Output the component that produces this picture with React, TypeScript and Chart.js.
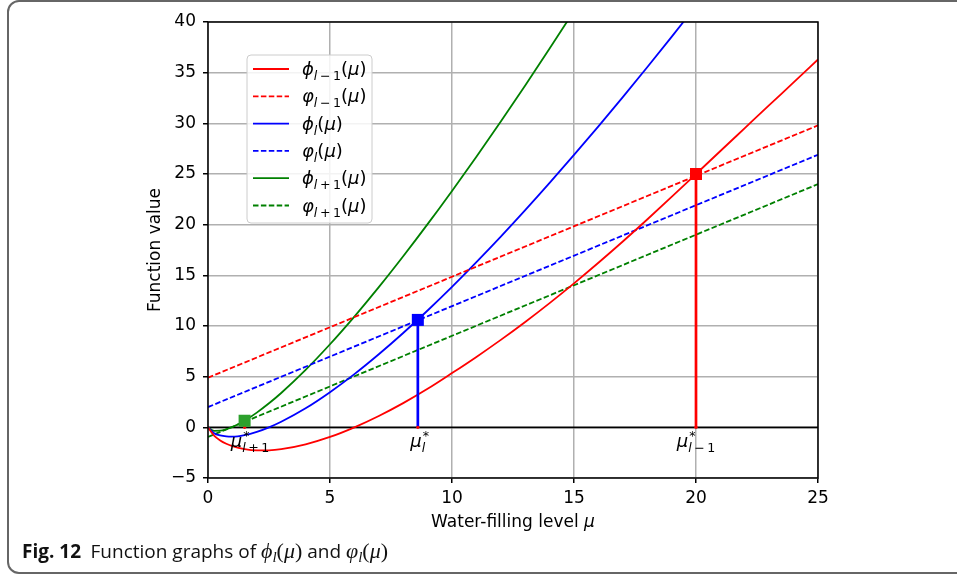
import React, { useEffect, useRef } from 'react';
import { Chart, registerables } from 'chart.js';

Chart.register(...registerables);

// ---- data ----
const muGrid = [0, 0.25, 0.5, 0.75, 1, 1.5, 2, 2.5, 3, 4, 5, 6, 7, 8, 9, 10, 11, 12, 13, 14, 15, 16, 17, 18, 19, 20, 21, 22, 23, 24, 25];
const phiPrev = [0, -0.82, -1.29, -1.62, -1.86, -2.16, -2.28, -2.27, -2.16, -1.68, -0.95, 0, 1.12, 2.39, 3.8, 5.35, 6.95, 8.63, 10.4, 12.26, 14.21, 16.24, 18.34, 20.51, 22.74, 25.0, 27.27, 29.53, 31.79, 34.04, 36.3];
const phiCur = [0, -0.58, -0.8, -0.9, -0.92, -0.77, -0.45, 0, 0.55, 1.88, 3.47, 5.25, 7.21, 9.31, 11.53, 13.86, 16.3, 18.82, 21.43, 24.12, 26.88, 29.7, 32.59, 35.53, 38.53, 41.59];
const phiNext = [0, -0.34, -0.33, -0.19, 0.03, 0.65, 1.45, 2.37, 3.39, 5.67, 8.2, 10.93, 13.83, 16.88, 20.05, 23.33, 26.71, 30.18, 33.74, 37.38, 41.08];

const lineMu = [0, 25];
const varphiPrev = [4.9, 29.8];
const varphiCur = [2.0, 26.9];
const varphiNext = [-0.95, 24.0];

const muStar = [1.5, 8.6, 20];
const starValue = [0.65, 10.6, 25.0];
const starLabelMu = [1.72, 8.6, 20];

const xMin = 0, xMax = 25, xStep = 5;
const yMin = -5, yMax = 40, yStep = 5;

const xTitle = 'Water-filling level ';
const yTitle = 'Function value';

type Part = { t: string; it?: boolean; sub?: boolean; sup?: boolean; noAdv?: boolean };

const MINUS_SUB = '\u2009\u2212\u20091';
const PLUS_SUB = '\u2009+\u20091';

const legendItems: { color: string; dashed: boolean; parts: Part[] }[] = [
  { color: '#ff0000', dashed: false, parts: [{ t: '\u03d5', it: true }, { t: 'l', it: true, sub: true }, { t: MINUS_SUB, sub: true }, { t: '(' }, { t: '\u03bc', it: true }, { t: ')' }] },
  { color: '#ff0000', dashed: true, parts: [{ t: '\u03c6', it: true }, { t: 'l', it: true, sub: true }, { t: MINUS_SUB, sub: true }, { t: '(' }, { t: '\u03bc', it: true }, { t: ')' }] },
  { color: '#0000ff', dashed: false, parts: [{ t: '\u03d5', it: true }, { t: 'l', it: true, sub: true }, { t: '(' }, { t: '\u03bc', it: true }, { t: ')' }] },
  { color: '#0000ff', dashed: true, parts: [{ t: '\u03c6', it: true }, { t: 'l', it: true, sub: true }, { t: '(' }, { t: '\u03bc', it: true }, { t: ')' }] },
  { color: '#008000', dashed: false, parts: [{ t: '\u03d5', it: true }, { t: 'l', it: true, sub: true }, { t: PLUS_SUB, sub: true }, { t: '(' }, { t: '\u03bc', it: true }, { t: ')' }] },
  { color: '#008000', dashed: true, parts: [{ t: '\u03c6', it: true }, { t: 'l', it: true, sub: true }, { t: PLUS_SUB, sub: true }, { t: '(' }, { t: '\u03bc', it: true }, { t: ')' }] },
];

const starLabels: Part[][] = [
  [{ t: '\u03bc', it: true }, { t: '*', sup: true, noAdv: true }, { t: 'l', it: true, sub: true }, { t: PLUS_SUB, sub: true }],
  [{ t: '\u03bc', it: true }, { t: '*', sup: true, noAdv: true }, { t: 'l', it: true, sub: true }],
  [{ t: '\u03bc', it: true }, { t: '*', sup: true, noAdv: true }, { t: 'l', it: true, sub: true }, { t: MINUS_SUB, sub: true }],
];

const RED = '#ff0000';
const BLUE = '#0000ff';
const GREEN = '#008000';
const GREEN_MARK = '#2ca02c';
const FONT = '"DejaVu Sans"';
const DASH = [5.5, 2.4];
const LW = 1.8;

function pts(xs: number[], ys: number[]) {
  return ys.map((v, i) => ({ x: xs[i], y: v }));
}

function drawMath(ctx: CanvasRenderingContext2D, parts: Part[], x: number, y: number, size: number, align: 'left' | 'center') {
  const fontFor = (p: Part) => `${p.it ? 'italic ' : ''}${p.sub || p.sup ? size * 0.7 : size}px ${FONT}`;
  let w = 0;
  for (const p of parts) {
    ctx.font = fontFor(p);
    if (!p.noAdv) w += ctx.measureText(p.t).width;
  }
  let cx = align === 'center' ? x - w / 2 : x;
  ctx.textAlign = 'left';
  ctx.textBaseline = 'alphabetic';
  for (const p of parts) {
    ctx.font = fontFor(p);
    const dy = p.sub ? size * 0.28 : p.sup ? -size * 0.42 : 0;
    ctx.fillText(p.t, p.sup ? cx + 1 : cx, y + dy);
    if (!p.noAdv) cx += ctx.measureText(p.t).width;
  }
}

const overlayPlugin = {
  id: 'overlay',
  afterDatasetsDraw(chart: any) {
    const { ctx, chartArea: a, scales } = chart;
    const xs = scales.x, ys = scales.y;
    ctx.save();
    // spines
    ctx.strokeStyle = '#000';
    ctx.lineWidth = 1.5;
    ctx.setLineDash([]);
    ctx.strokeRect(a.left, a.top, a.right - a.left, a.bottom - a.top);

    // μ* labels
    ctx.fillStyle = '#000';
    const y0 = ys.getPixelForValue(0);
    starLabels.forEach((parts, i) => {
      drawMath(ctx, parts, xs.getPixelForValue(starLabelMu[i]), y0 + 20, 18, 'center');
    });

    // legend
    const lx = a.left + 39, ly = a.top + 33, lw = 125, lh = 168;
    ctx.beginPath();
    ctx.roundRect(lx, ly, lw, lh, 4);
    ctx.fillStyle = 'rgba(255,255,255,0.85)';
    ctx.fill();
    ctx.strokeStyle = '#cccccc';
    ctx.lineWidth = 1;
    ctx.stroke();
    legendItems.forEach((it, i) => {
      const ry = ly + 14 + i * 27.3;
      ctx.beginPath();
      ctx.strokeStyle = it.color;
      ctx.lineWidth = LW;
      ctx.setLineDash(it.dashed ? DASH : []);
      ctx.moveTo(lx + 6, ry);
      ctx.lineTo(lx + 42, ry);
      ctx.stroke();
      ctx.setLineDash([]);
      ctx.fillStyle = '#000';
      drawMath(ctx, it.parts, lx + 55, ry + 6, 18, 'left');
    });

    // x-axis title
    ctx.fillStyle = '#000';
    const titleParts: Part[] = [{ t: xTitle }, { t: '\u03bc', it: true }];
    drawMath(ctx, titleParts, (a.left + a.right) / 2, 527, 17, 'center');
    ctx.restore();
  },
};

export default function App() {
  const ref = useRef<HTMLCanvasElement | null>(null);

  useEffect(() => {
    if (!ref.current) return;
    const line = (data: any[], color: string, extra: any = {}) => ({
      data,
      borderColor: color,
      backgroundColor: color,
      borderWidth: LW,
      pointRadius: 0,
      fill: false,
      ...extra,
    });
    const chart = new Chart(ref.current, {
      type: 'line',
      data: {
        datasets: [
          line(pts(lineMu, [0, 0]), '#000', { order: 6 }),
          line(pts(muGrid, phiPrev), RED, { order: 4, cubicInterpolationMode: 'monotone' }),
          line(pts(lineMu, varphiPrev), RED, { order: 4, borderDash: DASH }),
          line(pts(muGrid, phiCur), BLUE, { order: 4, cubicInterpolationMode: 'monotone' }),
          line(pts(lineMu, varphiCur), BLUE, { order: 4, borderDash: DASH }),
          line(pts(muGrid, phiNext), GREEN, { order: 4, cubicInterpolationMode: 'monotone' }),
          line(pts(lineMu, varphiNext), GREEN, { order: 4, borderDash: DASH }),
          line([{ x: muStar[0], y: 0 }, { x: muStar[0], y: starValue[0] }], GREEN_MARK, { order: 3, borderWidth: 2.7 }),
          line([{ x: muStar[1], y: 0 }, { x: muStar[1], y: starValue[1] }], BLUE, { order: 3, borderWidth: 2.7 }),
          line([{ x: muStar[2], y: 0 }, { x: muStar[2], y: starValue[2] }], RED, { order: 3, borderWidth: 2.7 }),
          line(muStar.map((m) => ({ x: m, y: 0 })), RED, { order: 2, showLine: false, pointRadius: 1.6, pointBorderWidth: 0 }),
          line([{ x: muStar[0], y: starValue[0] }], GREEN_MARK, { order: 1, showLine: false, pointStyle: 'rect', pointRadius: 8.5, pointBorderWidth: 0 }),
          line([{ x: muStar[1], y: starValue[1] }], BLUE, { order: 1, showLine: false, pointStyle: 'rect', pointRadius: 8.5, pointBorderWidth: 0 }),
          line([{ x: muStar[2], y: starValue[2] }], RED, { order: 1, showLine: false, pointStyle: 'rect', pointRadius: 8.5, pointBorderWidth: 0 }),
        ],
      },
      options: {
        responsive: false,
        animation: false,
        events: [],
        layout: { padding: { left: 145, top: 22, right: 139, bottom: 58 } },
        plugins: { legend: { display: false }, tooltip: { enabled: false } },
        scales: {
          x: {
            type: 'linear',
            min: xMin,
            max: xMax,
            afterFit: (s: any) => { s.height = 40; },
            ticks: { stepSize: xStep, color: '#000', padding: 5, font: { family: 'DejaVu Sans', size: 17 }, maxRotation: 0 },
            grid: { color: '#b0b0b0', lineWidth: 1.5, tickColor: '#000', tickLength: 5, tickWidth: 1.5 },
            border: { display: false },
          },
          y: {
            type: 'linear',
            min: yMin,
            max: yMax,
            afterFit: (s: any) => { s.width = 63; },
            ticks: {
              stepSize: yStep,
              color: '#000',
              padding: 7,
              font: { family: 'DejaVu Sans', size: 17 },
              callback: (v: any) => (Number(v) < 0 ? '\u2212' + Math.abs(Number(v)) : String(v)),
            },
            grid: { color: '#b0b0b0', lineWidth: 1.5, tickColor: '#000', tickLength: 5, tickWidth: 1.5 },
            border: { display: false },
            title: { display: true, text: yTitle, color: '#000', padding: 0, font: { family: 'DejaVu Sans', size: 17 } },
          },
        },
      },
      plugins: [overlayPlugin],
    } as any);
    return () => chart.destroy();
  }, []);

  const serifIt: React.CSSProperties = { fontFamily: '"Liberation Serif", serif', fontStyle: 'italic', fontSize: 22 };
  const serif: React.CSSProperties = { fontFamily: '"Liberation Serif", serif', fontSize: 22 };
  const subIt: React.CSSProperties = { fontFamily: '"Liberation Serif", serif', fontStyle: 'italic', fontSize: 15, position: 'relative', top: 4 };

  return (
    <div style={{ position: 'fixed', left: 0, top: 0, width: 957, height: 576, overflow: 'hidden', background: '#fff' }}>
      <canvas ref={ref} width={957} height={576} style={{ position: 'absolute', left: 0, top: 0, display: 'block' }} />
      <div
        style={{
          position: 'absolute', left: 7, top: 0, width: 1000, height: 574, boxSizing: 'border-box',
          border: '2px solid #666', borderRadius: 12, pointerEvents: 'none',
        }}
      />
      <div
        style={{
          position: 'absolute', left: 22, top: 541, lineHeight: '20px', whiteSpace: 'nowrap',
          fontFamily: '"Open Sans", sans-serif', fontSize: 19, color: '#111',
        }}
      >
        <span style={{ fontWeight: 700 }}>Fig. 12</span>
        <span>{'\u2002Function graphs of '}</span>
        <span style={serifIt}>{'\u03d5'}</span>
        <span style={subIt}>l</span>
        <span style={serif}>(</span>
        <span style={serifIt}>{'\u03bc'}</span>
        <span style={serif}>)</span>
        <span>{' and '}</span>
        <span style={serifIt}>{'\u03c6'}</span>
        <span style={subIt}>l</span>
        <span style={serif}>(</span>
        <span style={serifIt}>{'\u03bc'}</span>
        <span style={serif}>)</span>
      </div>
    </div>
  );
}
